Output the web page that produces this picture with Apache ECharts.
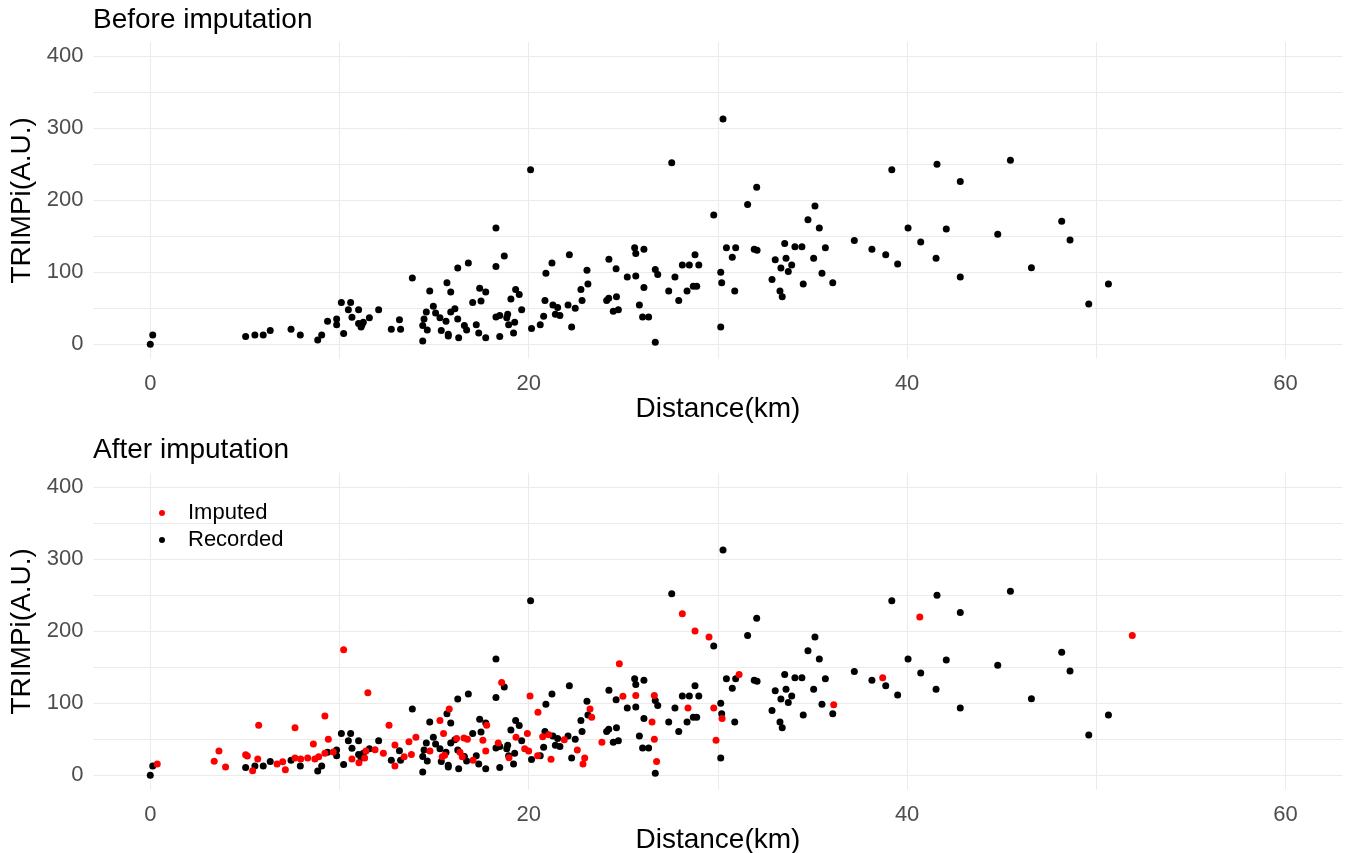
<!DOCTYPE html>
<html>
<head>
<meta charset="utf-8">
<script src="https://cdn.jsdelivr.net/npm/echarts@6/dist/echarts.min.js"></script>
<style>
  html, body { margin: 0; padding: 0; background: #fff; }
  #chart { width: 1348px; height: 853px; }
</style>
</head>
<body>
<div id="chart"></div>
<script>
// [distance km, TRIMPi]
const recorded = [
  [0, 0], [0.13, 13], [5.04, 11], [5.53, 13], [5.97, 13], [6.34, 19], [7.44, 21], [7.93, 13], [8.85, 6],
  [9.06, 13], [9.37, 32], [9.85, 35], [9.85, 27], [10.1, 58], [10.22, 15], [10.47, 48], [10.59, 58],
  [10.66, 37.5], [11.01, 48], [11.01, 29], [11.14, 24], [11.26, 30.5], [11.19, 27], [11.58, 37],
  [12.07, 48], [12.74, 21], [13.17, 34], [13.23, 21], [13.85, 92], [14.4, 4.6], [14.4, 26], [14.47, 35],
  [14.59, 45], [14.64, 20], [14.77, 74], [14.96, 53], [15.08, 43.5], [15.31, 37], [15.38, 19],
  [15.63, 32], [15.68, 85.5], [15.75, 14], [15.75, 11.5], [15.88, 72.6], [15.88, 45], [16.1, 49.5],
  [16.25, 35], [16.25, 106], [16.3, 9], [16.6, 26], [16.72, 20], [16.81, 113], [17.04, 58], [17.23, 27],
  [17.36, 15.7], [17.48, 60], [17.41, 78], [17.73, 72.6], [17.73, 9], [18.27, 161.5], [18.27, 108],
  [18.27, 38], [18.47, 40], [18.47, 11], [18.71, 122.6], [18.89, 41.6], [18.84, 37], [19.06, 63],
  [19.31, 76], [19.5, 69], [18.94, 27], [19.26, 30.5], [19.2, 15.7], [19.63, 48], [20.1, 242.5],
  [20.15, 22], [20.61, 27], [20.79, 39], [20.86, 61], [20.91, 98.6], [21.23, 113], [21.28, 54.6],
  [21.41, 41.6], [21.53, 51], [21.65, 40], [22.08, 54.6], [22.15, 124.5], [22.27, 24], [22.46, 50],
  [22.76, 76], [22.82, 61], [23.08, 103], [23.13, 83.7], [24.12, 61], [24.23, 64], [24.24, 118],
  [24.47, 46], [24.62, 105], [24.64, 66], [24.74, 48], [25.21, 93.5], [25.6, 134], [25.66, 126],
  [25.66, 95], [25.85, 54.6], [26.02, 38], [26.09, 132], [26.09, 79], [26.34, 38], [26.69, 3],
  [26.69, 104], [26.82, 97], [27.4, 74], [27.56, 252], [27.73, 93.5], [27.93, 61], [28.12, 110],
  [28.37, 74], [28.49, 110], [28.7, 80.5], [28.79, 124.5], [28.88, 80.5], [28.99, 110], [29.78, 179.5],
  [30.15, 100], [30.2, 85.5], [30.15, 24], [30.45, 134], [30.76, 121], [30.94, 134], [30.89, 74],
  [30.27, 313], [31.57, 194], [32.05, 218], [31.92, 132], [32.07, 130.5], [32.86, 90], [33.03, 117.5],
  [33.28, 74], [33.4, 66], [33.33, 106], [33.53, 140], [33.6, 119.4], [33.72, 101], [33.9, 110],
  [34.07, 135.6], [34.44, 135.6], [34.51, 83.7], [34.76, 173], [35.06, 119.4], [35.13, 192],
  [35.36, 161.5], [35.5, 98.6], [35.68, 134], [36.07, 85.5], [37.21, 144], [38.14, 132], [38.87, 124.5],
  [39.19, 242.5], [39.5, 111.5], [40.05, 161.5], [40.72, 142], [41.53, 119.4], [41.58, 250], [42.07, 160],
  [42.81, 226], [42.81, 93.5], [44.79, 153], [45.46, 255.5], [46.57, 106.4], [48.17, 171], [48.61, 145],
  [49.6, 56], [50.64, 83.7]
];

const imputed = [
  [0.37, 15.7], [3.38, 19.4], [3.63, 33.7], [3.98, 11.5], [5.04, 28.6], [5.13, 26.8], [5.41, 6.4],
  [5.68, 22.6], [5.73, 69.4], [6.7, 15.7], [7.0, 18.9], [7.14, 7.8], [7.65, 66], [7.65, 24], [7.95, 22.6],
  [8.32, 24], [8.62, 43.5], [8.7, 22.6], [8.9, 25.8], [9.23, 30.5], [9.23, 82.4], [9.41, 50], [9.67, 32.4],
  [10.22, 174.5], [10.66, 22.6], [11.03, 17.5], [11.33, 24], [11.4, 33.7], [11.5, 114.7], [11.88, 35.6],
  [12.32, 30.5], [12.62, 69.4], [12.93, 42], [12.93, 13], [13.42, 25.8], [13.67, 46.7], [13.8, 29],
  [14.04, 53], [14.78, 33.7], [15.31, 76], [15.5, 58], [15.56, 27.8], [15.43, 25.8], [15.8, 92],
  [16.19, 51], [16.37, 32], [16.49, 25.8], [16.58, 51.8], [16.76, 50], [17.06, 20.8], [17.58, 48.6],
  [17.73, 33.7], [17.78, 69.4], [18.39, 45], [18.57, 129], [18.96, 24.4], [19.33, 53], [19.79, 37],
  [19.93, 58], [20.07, 110], [20.49, 87.5], [20.0, 33.7], [20.47, 27.2], [20.74, 53.6], [21.06, 56.4],
  [21.18, 22.2], [21.88, 49.4], [22.57, 35], [22.87, 15.7], [22.96, 24], [23.24, 92], [23.33, 80.5],
  [23.87, 46], [24.79, 155], [24.98, 109.7], [25.66, 111], [26.52, 74], [26.64, 111], [26.64, 50],
  [26.76, 19], [28.12, 224.5], [28.42, 93.5], [28.79, 200.4], [29.53, 192], [29.78, 93.5], [29.9, 48.6],
  [30.22, 79], [31.12, 140], [36.12, 98], [38.71, 135.6], [40.67, 220], [51.9, 194]
];

const xGridVals = [0, 10, 20, 30, 40, 50, 60];
const xLabelVals = [0, 20, 40, 60];
const yGridVals = [0, 50, 100, 150, 200, 250, 300, 350, 400];
const yLabelVals = [0, 100, 200, 300, 400];
const panelTitles = ['Before imputation', 'After imputation'];

const font = 'Liberation Sans, Arial, sans-serif';
const gridLine = { show: true, lineStyle: { color: '#ebebeb', width: 1 } };

function xAxis (gi) {
  return {
    type: 'value', gridIndex: gi, min: -3, max: 63,
    name: 'Distance(km)', nameLocation: 'middle', nameGap: 30,
    nameTextStyle: { fontFamily: font, fontSize: 28, color: '#000' },
    axisLine: { show: false },
    axisTick: { show: false, customValues: xGridVals },
    axisLabel: { customValues: xLabelVals, margin: 14, fontFamily: font, fontSize: 22, color: '#4d4d4d' },
    splitLine: gridLine
  }
}

function yAxis (gi) {
  return {
    type: 'value', gridIndex: gi, min: -20, max: 420,
    name: 'TRIMPi(A.U.)', nameLocation: 'middle', nameGap: 55,
    nameTextStyle: { fontFamily: font, fontSize: 28, color: '#000' },
    axisLine: { show: false },
    axisTick: { show: false, customValues: yGridVals },
    axisLabel: { customValues: yLabelVals, margin: 10, fontFamily: font, fontSize: 22, color: '#4d4d4d' },
    splitLine: gridLine
  }
}

const chart = echarts.init(document.getElementById('chart'))
chart.setOption({
  animation: false,
  title: [
    { text: panelTitles[0], left: 88, top: 1, textStyle: { fontFamily: font, fontSize: 28, fontWeight: 'normal', color: '#000' } },
    { text: panelTitles[1], left: 88, top: 431, textStyle: { fontFamily: font, fontSize: 28, fontWeight: 'normal', color: '#000' } }
  ],
  grid: [
    { left: 93.5, top: 41.9, width: 1248.8, height: 316.8, outerBoundsMode: 'none' },
    { left: 93.5, top: 472.9, width: 1248.8, height: 316.8, outerBoundsMode: 'none' }
  ],
  xAxis: [xAxis(0), xAxis(1)],
  yAxis: [yAxis(0), yAxis(1)],
  legend: {
    orient: 'vertical',
    left: 154, top: 497,
    data: ['Imputed', 'Recorded'],
    icon: 'circle',
    itemWidth: 6, itemHeight: 6,
    itemGap: 5,
    textStyle: { fontFamily: font, fontSize: 22, color: '#000', lineHeight: 22, padding: [0, 0, 0, 18] }
  },
  series: [{
    name: 'before',
    type: 'scatter',
    xAxisIndex: 0, yAxisIndex: 0,
    data: recorded,
    symbolSize: 7,
    itemStyle: { color: '#000', opacity: 1 }
  }, {
    name: 'Recorded',
    type: 'scatter',
    xAxisIndex: 1, yAxisIndex: 1,
    data: recorded,
    symbolSize: 7,
    itemStyle: { color: '#000', opacity: 1 }
  }, {
    name: 'Imputed',
    type: 'scatter',
    xAxisIndex: 1, yAxisIndex: 1,
    data: imputed,
    symbolSize: 7,
    itemStyle: { color: '#ff0000', opacity: 1 }
  }]
})
</script>
</body>
</html>
